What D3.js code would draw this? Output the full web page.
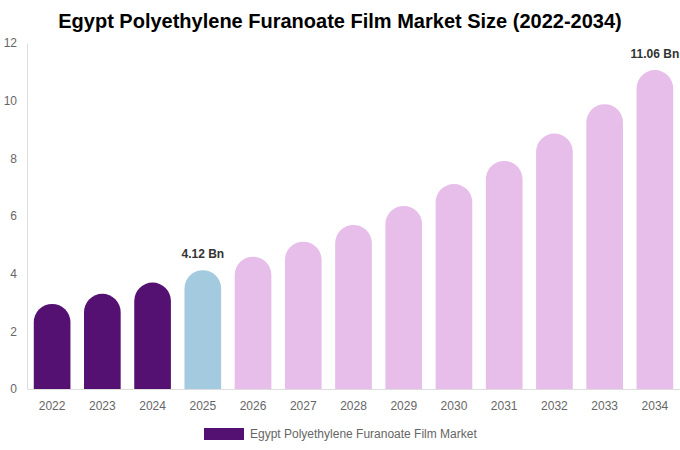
<!DOCTYPE html>
<html>
<head>
<meta charset="utf-8">
<title>Egypt Polyethylene Furanoate Film Market Size (2022-2034)</title>
<script src="https://cdn.jsdelivr.net/npm/d3@7"></script>
<style>
    body { margin: 0; background: #fff; font-family: "Liberation Sans", Arial, sans-serif; }
    .tick text { fill: #666; font-size: 12px; }
</style>
</head>
<body>
<div id="chart"></div>
<script>
    // data
    const years = ["2022", "2023", "2024", "2025", "2026", "2027", "2028", "2029", "2030", "2031", "2032", "2033", "2034"];
    const values = [2.95, 3.3, 3.69, 4.12, 4.59, 5.11, 5.69, 6.35, 7.11, 7.91, 8.86, 9.88, 11.06];
    const labelled = {"2025": "4.12 Bn", "2034": "11.06 Bn"};
    const yTicks = [0, 2, 4, 6, 8, 10, 12];

    const W = 680, H = 450;
    const margin = {top: 43, right: 0, bottom: 61, left: 27};

    const svg = d3.select("#chart").append("svg")
        .attr("width", W)
        .attr("height", H);

    const x = d3.scaleBand()
        .domain(years)
        .range([margin.left, W - margin.right])
        .paddingInner(0.27)
        .paddingOuter(0.135);

    const y = d3.scaleLinear()
        .domain([0, 12])
        .range([H - margin.bottom, margin.top]);

    const color = yr => (+yr < 2025 ? "#551172" : (+yr === 2025 ? "#a4cadf" : "#e7bde9"));

    // title
    svg.append("text")
        .attr("x", W / 2)
        .attr("y", 28)
        .attr("text-anchor", "middle")
        .style("font-size", "20px")
        .style("font-weight", "bold")
        .style("fill", "#000")
        .text("Egypt Polyethylene Furanoate Film Market Size (2022-2034)");

    // y axis
    const yAxis = svg.append("g")
        .attr("transform", `translate(${margin.left},0)`)
        .call(d3.axisLeft(y).tickValues(yTicks).tickSize(0).tickPadding(10));
    yAxis.select(".domain").attr("stroke", "#ddd");
    yAxis.selectAll(".tick text").attr("dy", "0.32em");

    // x axis
    const xAxis = svg.append("g")
        .attr("transform", `translate(0,${y(0)})`)
        .call(d3.axisBottom(x).tickSize(0).tickPadding(12));
    xAxis.select(".domain").attr("stroke", "#ddd");

    // bars with round tops
    const bw = x.bandwidth();
    const r = bw / 2;
    function barPath(yr, v) {
        const x0 = x(yr), x1 = x0 + bw;
        const yb = y(0), yt = y(v);
        return `M${x0},${yb} L${x0},${yt + r} A${r},${r} 0 0 1 ${x1},${yt + r} L${x1},${yb} Z`;
    }

    svg.append("g")
        .selectAll("path")
        .data(years.map((yr, i) => ({yr: yr, v: values[i]})))
        .join("path")
        .attr("d", d => barPath(d.yr, d.v))
        .attr("fill", d => color(d.yr));

    // value labels
    svg.append("g")
        .selectAll("text")
        .data(years.map((yr, i) => ({yr: yr, v: values[i]})).filter(d => labelled[d.yr]))
        .join("text")
        .attr("x", d => x(d.yr) + bw / 2)
        .attr("y", d => y(d.v) - 12)
        .attr("text-anchor", "middle")
        .style("font-size", "12px")
        .style("font-weight", "bold")
        .style("fill", "#333")
        .text(d => labelled[d.yr]);

    // legend
    const legend = svg.append("g").attr("transform", "translate(204,428)");
    legend.append("rect")
        .attr("width", 40)
        .attr("height", 12)
        .attr("fill", "#551172");
    legend.append("text")
        .attr("x", 46)
        .attr("y", 10)
        .style("font-size", "12px")
        .style("fill", "#666")
        .text("Egypt Polyethylene Furanoate Film Market");
</script>
</body>
</html>
